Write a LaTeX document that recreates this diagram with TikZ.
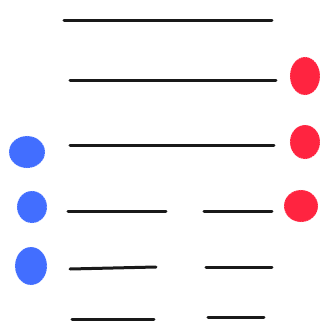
\documentclass[tikz,border=0pt]{standalone}
\definecolor{dotblue}{RGB}{66,110,255}
\definecolor{dotred}{RGB}{255,36,64}
\tikzset{
  bar/.style={line width=3pt, line cap=round, black!90},
  bluedot/.style={ellipse, fill=dotblue, draw=white!80!dotblue, dotted, line width=0.6pt, inner sep=0pt},
  reddot/.style={ellipse, fill=dotred, draw=white!80!dotred, dotted, line width=0.6pt, inner sep=0pt},
}
\usetikzlibrary{shapes.geometric}
\begin{document}
\begin{tikzpicture}[x=1pt,y=-1pt]
\useasboundingbox (0,0) rectangle (320,325);
% lines
\draw[bar] (64,20) -- (272,20);
\draw[bar] (70,80) -- (276,80);
\draw[bar] (70,145) -- (274,145);
\draw[bar] (68,211) -- (166,211);
\draw[bar] (204,211) -- (272,211);
\draw[bar] (70,269) -- (156,267);
\draw[bar] (206,267) -- (272,267);
\draw[bar] (72,319) -- (154,319);
\draw[bar] (208,317) -- (264,317);
% dots
\node[reddot, minimum width=30pt, minimum height=38pt] (r1) at (305,76) {};
\node[reddot, minimum width=30pt, minimum height=34pt] (r2) at (305,142) {};
\node[reddot, minimum width=34pt, minimum height=32pt] (r3) at (301,206) {};
\node[bluedot, minimum width=36pt, minimum height=32pt] (b1) at (27,152) {};
\node[bluedot, minimum width=30pt, minimum height=32pt] (b2) at (32,207) {};
\node[bluedot, minimum width=32pt, minimum height=38pt] (b3) at (31,266) {};
\end{tikzpicture}
\end{document}
